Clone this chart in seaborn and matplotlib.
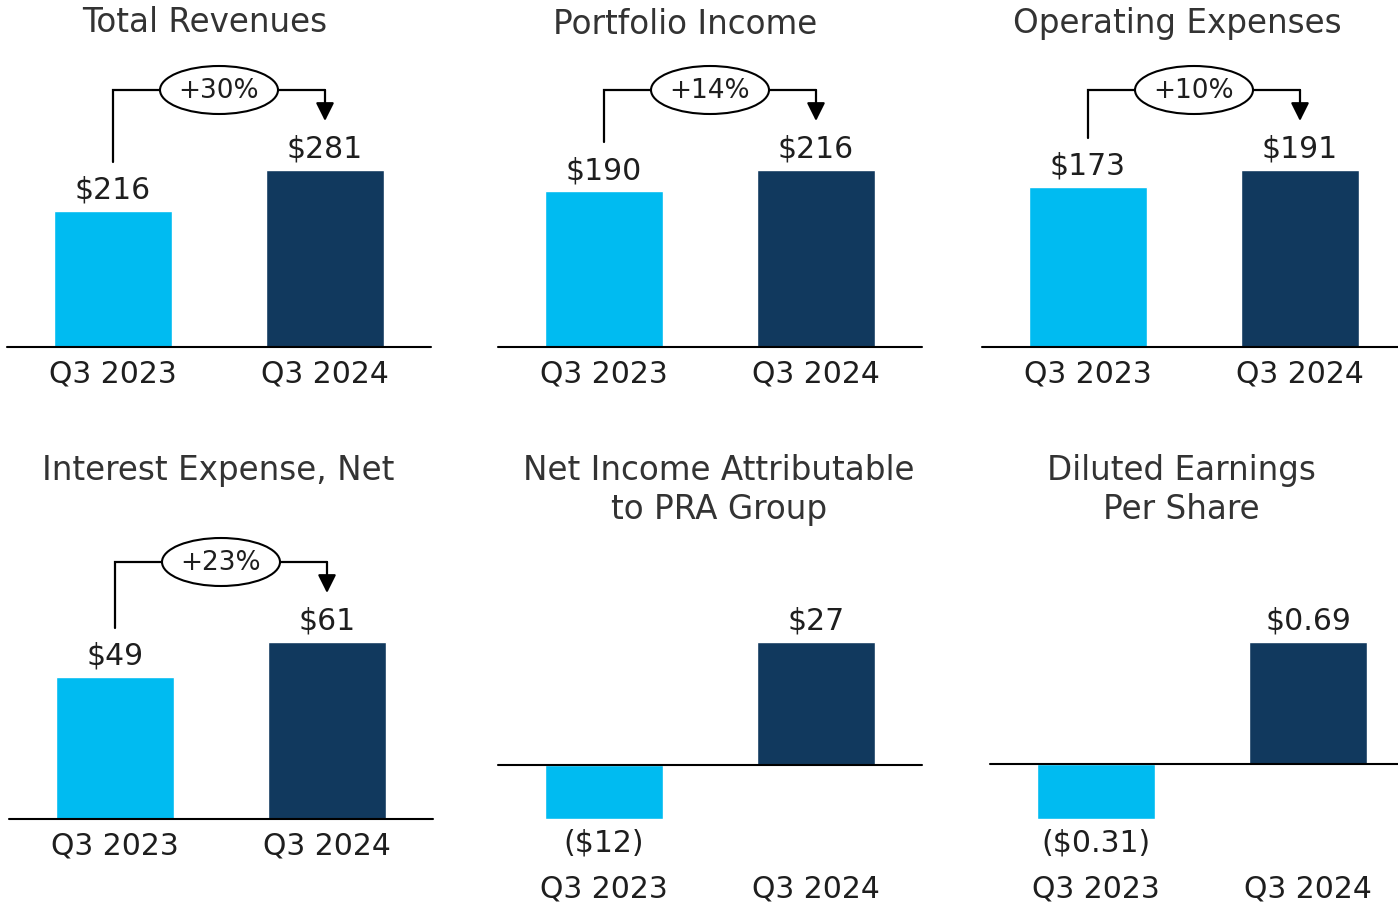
import seaborn as sns
import matplotlib.pyplot as plt
from matplotlib.patches import Ellipse

# chart data
periods = ['Q3 2023', 'Q3 2024']
titles = ['Total Revenues', 'Portfolio Income', 'Operating Expenses',
          'Interest Expense, Net', 'Net Income Attributable\nto PRA Group',
          'Diluted Earnings\nPer Share']
values_2023 = [216, 190, 173, 49, -12, -0.31]
values_2024 = [281, 216, 191, 61, 27, 0.69]
labels_2023 = ['$216', '$190', '$173', '$49', '($12)', '($0.31)']
labels_2024 = ['$281', '$216', '$191', '$61', '$27', '$0.69']
growth = ['+30%', '+14%', '+10%', '+23%', None, None]

LIGHT = '#00BBF1'
DARK = '#11395E'
TEXT = '#1e1e1e'

W, H = 1398, 903
BAR_PX = 177          # pixel height of the full value span in every panel
UNIT_PX = 212         # pixels between the two bar centres

# panel placement (pixels from the top-left corner of the figure)
panel_left = [7, 498, 982, 9, 498, 990]
panel_top = [171, 171, 171, 643, 643, 643]
title_pos = [(205, 22), (685, 24), (1177, 24), (218, 471), (719, 490), (1181, 490)]

sns.set_style('white')
plt.rcParams['font.family'] = ['DejaVu Sans']

fig = plt.figure(figsize=(W / 100, H / 100), dpi=100)


def px_rect(left, top, width=424, height=BAR_PX):
    return [left / W, 1 - (top + height) / H, width / W, height / H]


for k in range(6):
    ax = fig.add_axes(px_rect(panel_left[k], panel_top[k]))
    vals = [values_2023[k], values_2024[k]]
    sns.barplot(x=periods, y=vals, hue=periods, palette=[LIGHT, DARK],
                width=118 / UNIT_PX, saturation=1, legend=False, ax=ax)

    lo = min(0, min(vals))
    hi = max(vals)
    upp = (hi - lo) / BAR_PX  # data units per pixel
    ax.set_xlim(-0.5, 1.5)
    ax.set_ylim(lo, hi)
    ax.axhline(0, color='black', lw=1.5, clip_on=False, zorder=3)

    for s in ax.spines.values():
        s.set_visible(False)
    ax.set_yticks([])
    ax.set_xlabel('')
    ax.set_ylabel('')

    # period labels under the axis
    pad = 55.5 if lo < 0 else 25.2
    ax.set_xticks([0, 1], labels=periods)
    ax.tick_params(axis='x', length=0, pad=pad, labelsize=21.5, labelcolor=TEXT)
    for t in ax.get_xticklabels():
        t.set_verticalalignment('baseline')

    # value labels
    for i, (v, lab) in enumerate(zip(vals, [labels_2023[k], labels_2024[k]])):
        off = 9.4 if v >= 0 else -23
        ax.annotate(lab, xy=(i, v), xytext=(0, off), textcoords='offset points',
                    ha='center', va='baseline', fontsize=21.5, color=TEXT,
                    annotation_clip=False)

    # growth bracket with the ellipse badge
    if growth[k]:
        y_start = vals[0] + 49 * upp
        y_h = hi + 80 * upp
        y_tip = vals[1] + 49 * upp
        ax.plot([0, 0, 1], [y_start, y_h, y_h], color='black', lw=1.6,
                clip_on=False, solid_joinstyle='miter', zorder=4)
        ax.annotate('', xy=(1, y_tip), xytext=(1, y_h),
                    arrowprops=dict(arrowstyle='-|>,head_length=1.1,head_width=0.55',
                                    mutation_scale=10, color='black', lw=1.6,
                                    shrinkA=0, shrinkB=0),
                    annotation_clip=False, zorder=4)
        ax.add_patch(Ellipse((0.5, y_h), width=118 / UNIT_PX, height=48 * upp,
                             fc='white', ec='black', lw=1.5, clip_on=False, zorder=5))
        ax.text(0.5, y_h, growth[k], ha='center', va='center', fontsize=19,
                color=TEXT, zorder=6)

    tx, ty = title_pos[k]
    fig.text(tx / W, 1 - ty / H, titles[k], ha='center', va='center',
             fontsize=23.5, color='#333333', linespacing=1.22)

fig.savefig('out.png', dpi=100)
